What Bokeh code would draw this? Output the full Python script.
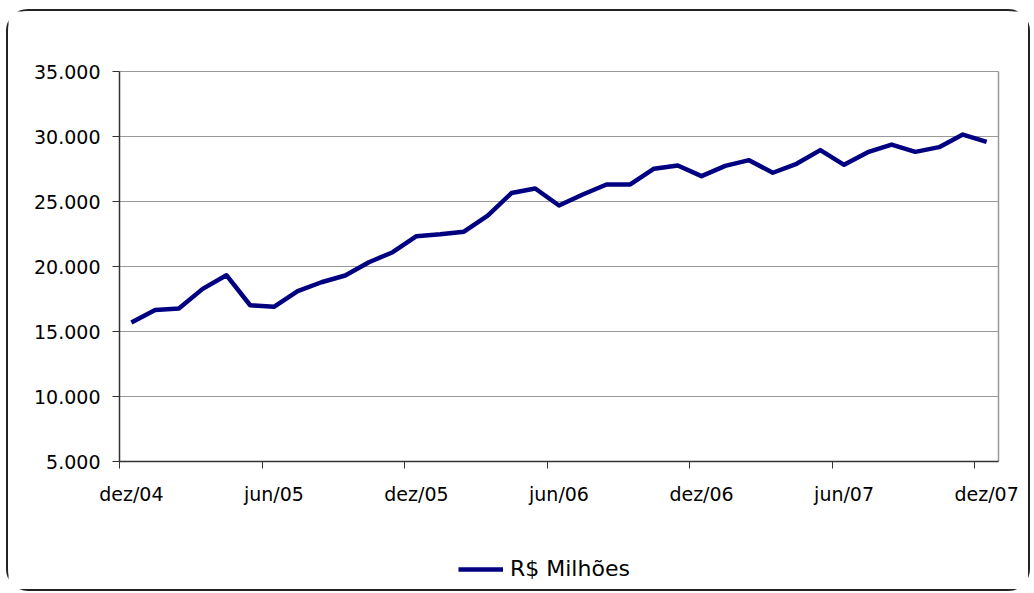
from bokeh.plotting import figure
from bokeh.models import Range1d, FixedTicker, Legend, LegendItem, LinearAxis
from bokeh.embed import file_html
from bokeh.resources import INLINE

months = ["dez/04", "jan/05", "fev/05", "mar/05", "abr/05", "mai/05", "jun/05",
          "jul/05", "ago/05", "set/05", "out/05", "nov/05", "dez/05",
          "jan/06", "fev/06", "mar/06", "abr/06", "mai/06", "jun/06",
          "jul/06", "ago/06", "set/06", "out/06", "nov/06", "dez/06",
          "jan/07", "fev/07", "mar/07", "abr/07", "mai/07", "jun/07",
          "jul/07", "ago/07", "set/07", "out/07", "nov/07", "dez/07"]
valores = [15700, 16650, 16770, 18280, 19330, 17020, 16900,
           18100, 18790, 19310, 20330, 21100, 22330,
           22480, 22680, 23920, 25650, 26000, 24690,
           25540, 26310, 26310, 27520, 27770, 26950,
           27740, 28180, 27210, 27900, 28950, 27820,
           28790, 29380, 28820, 29180, 30150, 29590]
y_ticks = [5000, 10000, 15000, 20000, 25000, 30000, 35000]
y_tick_labels = ["5.000", "10.000", "15.000", "20.000", "25.000", "30.000", "35.000"]
serie_nome = "R$ Milhões"
label_step = 6

FONT = "DejaVu Sans"
x = list(range(len(months)))

# layout geometry (pixels): the frame covers the whole canvas, the value
# area sits inside it and the axes are placed at its edges
CANVAS_W, CANVAS_H = 1020, 578
PLOT_L, PLOT_T = 111, 60
PLOT_W, PLOT_H = 879, 390
y_min, y_max = y_ticks[0], y_ticks[-1]
x_lo, x_hi = -0.5, len(months) - 0.5
upx = (x_hi - x_lo) / PLOT_W
upy = (y_max - y_min) / PLOT_H
x_range = Range1d(x_lo - PLOT_L * upx, x_hi + (CANVAS_W - PLOT_L - PLOT_W) * upx)
y_range = Range1d(y_min - (CANVAS_H - PLOT_T - PLOT_H) * upy, y_max + PLOT_T * upy)

p = figure(frame_width=CANVAS_W, frame_height=CANVAS_H,
           output_backend="svg", toolbar_location=None,
           x_range=x_range, y_range=y_range,
           x_axis_location=None, y_axis_location=None,
           min_border_left=0, min_border_right=0,
           min_border_top=0, min_border_bottom=0,
           styles={"border": "2px solid #222222", "border-radius": "22px",
                   "background": "white", "margin-left": "6px",
                   "margin-top": "9px"})
p.background_fill_color = "white"
p.border_fill_color = "white"
p.outline_line_color = None
p.xgrid.visible = False
p.ygrid.visible = False

# horizontal grid lines across the value area (top one = top border)
n = len(y_ticks)
p.segment(x0=[x_lo] * n, y0=y_ticks, x1=[x_hi] * n, y1=y_ticks,
          line_color="#999999", line_width=1.2)

# right border of the value area
p.segment(x0=[x_hi], y0=[y_min], x1=[x_hi], y1=[y_max],
          line_color="#999999", line_width=1.5)

r = p.line(x, valores, line_color="#000080", line_width=4.5, line_join="round")

# x axis at value 5.000: labels every 6th category, tick marks between categories
major = list(range(0, len(months), label_step))
minor = [m - 0.5 for m in range(0, len(months), label_step)]
xaxis = LinearAxis(fixed_location=y_min, bounds=(x_lo, x_hi))
xaxis.ticker = FixedTicker(ticks=major, minor_ticks=minor)
xaxis.major_label_overrides = {m: months[m] for m in major}
xaxis.major_tick_out = 0
xaxis.major_tick_in = 0
xaxis.minor_tick_out = 7
xaxis.minor_tick_in = 0
xaxis.minor_tick_line_color = "#333333"
xaxis.axis_line_color = "#333333"
xaxis.axis_line_width = 1.5
xaxis.major_label_standoff = 14
xaxis.major_label_text_font = FONT
xaxis.major_label_text_font_size = "19px"
xaxis.major_label_text_color = "black"
p.add_layout(xaxis, "below")

# y axis at the left edge of the value area
yaxis = LinearAxis(fixed_location=x_lo, bounds=(y_min, y_max))
yaxis.ticker = FixedTicker(ticks=y_ticks)
yaxis.major_label_overrides = {t: l for t, l in zip(y_ticks, y_tick_labels)}
yaxis.major_tick_out = 7
yaxis.major_tick_in = 0
yaxis.minor_tick_out = 0
yaxis.minor_tick_in = 0
yaxis.major_tick_line_color = "#333333"
yaxis.axis_line_color = "#333333"
yaxis.axis_line_width = 1.5
yaxis.major_label_standoff = 12
yaxis.major_label_text_font = FONT
yaxis.major_label_text_font_size = "19px"
yaxis.major_label_text_color = "black"
p.add_layout(yaxis, "left")

legend = Legend(items=[LegendItem(label=serie_nome, renderers=[r])],
                location=(450, 8), orientation="horizontal",
                margin=0, padding=0,
                border_line_color=None, background_fill_alpha=0,
                glyph_width=45, glyph_height=20, label_height=20,
                label_standoff=7, label_text_font=FONT,
                label_text_font_size="22px", label_text_color="black")
p.add_layout(legend, "center")

open("out.html", "w").write(file_html(p, INLINE))
